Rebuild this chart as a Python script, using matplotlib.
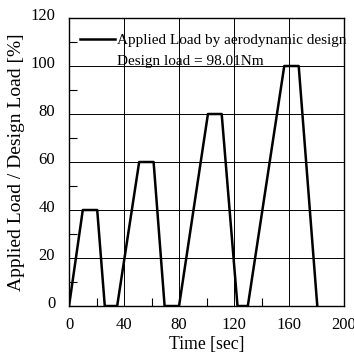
import numpy as np
import matplotlib.pyplot as plt
from matplotlib.ticker import MultipleLocator
from matplotlib.transforms import ScaledTranslation

# load profile
time = [0, 10, 20.5, 26, 35, 51, 61.5, 69.5, 80, 101, 111, 122.5, 130, 156.5, 167, 180.5]
load = [0, 40, 40, 0, 0, 60, 60, 0, 0, 80, 80, 0, 0, 100, 100, 0]

plt.rcParams['font.family'] = ['Liberation Serif', 'DejaVu Serif']
plt.rcParams['font.size'] = 12

fig = plt.figure(figsize=(3.54, 3.56), dpi=100)
ax = fig.add_axes([0.195, 0.1404, 0.777, 0.809])

ax.plot(time, load, 'k-', linewidth=1.8, label='Applied Load by aerodynamic design')
ax.plot([], [], ' ', label='Design load = 98.01Nm')

ax.set_xlim(0, 200)
ax.set_ylim(0, 120)
ax.xaxis.set_major_locator(MultipleLocator(40))
ax.xaxis.set_minor_locator(MultipleLocator(20))
ax.yaxis.set_major_locator(MultipleLocator(20))
ax.yaxis.set_minor_locator(MultipleLocator(10))
ax.tick_params(which='both', direction='in', top=False, right=False)
ax.tick_params(which='major', length=0, labelsize=12)
ax.tick_params(axis='y', which='major', pad=10)
ax.tick_params(axis='x', which='major', pad=8)
ax.tick_params(which='minor', length=6, width=0.8)
ax.grid(True, which='major', color='k', linewidth=0.7)
for s in ax.spines.values():
    s.set_linewidth(1.0)

# y labels sit a little above their grid lines
off = ScaledTranslation(0, 3/72, fig.dpi_scale_trans)
for lab in ax.get_yticklabels():
    lab.set_transform(lab.get_transform() + off)

ax.set_xlabel('Time [sec]', fontsize=12.7, labelpad=2)
ax.set_ylabel('Applied Load / Design Load [%]', fontsize=14, labelpad=4)

leg = ax.legend(loc='upper left', bbox_to_anchor=(0.005, 0.978), frameon=False,
                handlelength=2.35, handletextpad=0.1, borderaxespad=0.2,
                labelspacing=0.45, fontsize=11)

fig.savefig('out.png', dpi=100)
